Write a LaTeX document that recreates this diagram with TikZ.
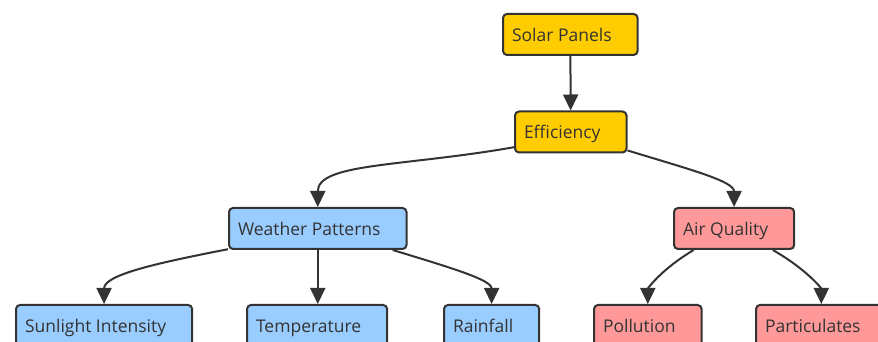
\documentclass[tikz,border=0pt]{standalone}
\usepackage{fontspec}
\setmainfont{Open Sans}
\usetikzlibrary{arrows.meta}
\definecolor{linec}{HTML}{333333}
\definecolor{sunfill}{HTML}{FFCC00}
\definecolor{skyfill}{HTML}{99CCFF}
\definecolor{airfill}{HTML}{FF9999}
\begin{document}
\begin{tikzpicture}[
            x=1pt, y=1pt,
            box/.style={draw=linec, line width=2pt, rounded corners=4pt,
                anchor=west, text=linec, font=\fontsize{17.5pt}{20pt}\selectfont,
                minimum height=41pt, inner xsep=9pt, inner ysep=0pt,
                text height=14pt, text depth=0pt,
                execute at end node={\hspace*{17pt}}},
            link/.style={draw=linec, line width=2pt,
                -{Triangle[length=16pt, width=15pt]}},
            swing/.style={out looseness=1.4, in looseness=0.55}
        ]
            \useasboundingbox (0, 0) rectangle (878, 342);

            % top chain
            \node[box, fill=sunfill] (sp) at (502, 307.5) {Solar Panels};
            \node[box, fill=sunfill] (eff) at (514, 210) {Efficiency};

            % middle row
            \node[box, fill=skyfill] (wp) at (228, 113.5) {Weather Patterns};
            \node[box, fill=airfill] (aq) at (673, 113.5) {Air Quality};

            % bottom row
            \node[box, fill=skyfill] (si) at (15, 16.5) {Sunlight Intensity};
            \node[box, fill=skyfill] (tp) at (246, 16.5) {Temperature};
            \node[box, fill=skyfill] (rf) at (443, 16.5) {Rainfall};
            \node[box, fill=airfill] (pol) at (593, 16.5) {Pollution};
            \node[box, fill=airfill] (pc) at (755, 16.5) {Particulates};

            \draw[link] (sp) -- (eff);
            \draw[link] (eff.195) to[out=190, in=90, swing] (wp.north);
            \draw[link] (eff.-18) to[out=-17, in=90, swing] (aq.north);

            \draw[link] (wp.193) to[out=191, in=90, swing] (si.north);
            \draw[link] (wp.south) -- (wp.south |- tp.north);
            \draw[link] (wp.-16) to[out=-17, in=90, swing] (rf.north);

            \draw[link] (aq.208) to[out=211, in=90, swing] (pol.north);
            \draw[link] (aq.-29) to[out=-30, in=90, swing] (pc.north);

        \end{tikzpicture}
\end{document}
